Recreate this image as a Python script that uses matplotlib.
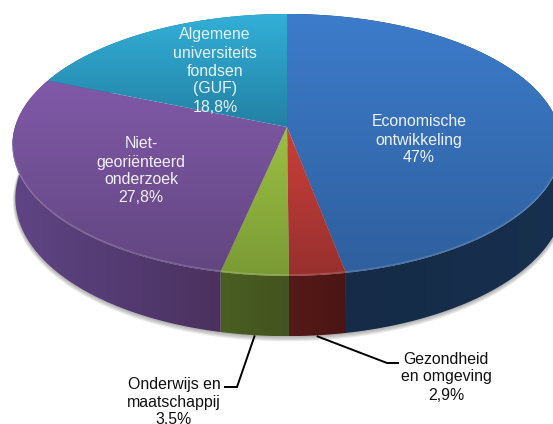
import numpy as np
import matplotlib
matplotlib.use('Agg')
import matplotlib.pyplot as plt
from matplotlib.colors import LinearSegmentedColormap
from matplotlib.patches import Polygon

plt.rcParams['font.family'] = ['Liberation Sans', 'DejaVu Sans']

# waarden, met de klok mee vanaf boven
labels = ['Economische\nontwikkeling\n47%', 'Gezondheid\nen omgeving\n2,9%',
          'Onderwijs en\nmaatschappij\n3,5%', 'Niet-\ngeoriënteerd\nonderzoek\n27,8%',
          'Algemene\nuniversiteits\nfondsen\n(GUF)\n18,8%']
values = [47, 2.9, 3.5, 27.8, 18.8]
top_colors = [('#3c7ccb', '#2f5f9e'), ('#c9403a', '#98302e'), ('#9cc043', '#7a9a35'),
              ('#8059a8', '#624680'), ('#33b0d8', '#2380a4')]
wall_colors = [('#152a45', '#17304f'), ('#551a18', '#4a1513'), ('#4a5e22', '#435420'),
               ('#4a315f', '#5f4584'), ('#1d6a85', '#1d6a85')]
label_pos = [(419, 140), (446, 377), (174, 402), (141, 171), (215, 71)]
label_color = ['#eef2f9', '#111111', '#111111', '#f3eff7', '#e6f4f9']

# perspectief van de schijf
cx, cy = 287, 127
A, B, k = 272, 128.5, 0.137
depth = 52
skew = 3


def project(a, z=0.0, grow=0.0):
    u, v = np.sin(a), np.cos(a)
    w = 1 + k * v
    dx = skew * u ** 2 if z else 0
    return cx + dx + (A + grow) * u / w, cy - (B + grow) * v / w + z / w


def gradient(ax, patch, c0, c1, vertical=True):
    cmap = LinearSegmentedColormap.from_list('g', [c0, c1])
    g = np.linspace(0, 1, 256).reshape(-1, 1)
    if not vertical:
        g = g.T
    x0, y0 = patch.get_xy().min(axis=0)
    x1, y1 = patch.get_xy().max(axis=0)
    ax.add_patch(patch)
    im = ax.imshow(g, cmap=cmap, extent=(x0, x1, y1, y0), aspect='auto', zorder=patch.get_zorder())
    im.set_clip_path(patch)


fig = plt.figure(figsize=(5.53, 4.24), dpi=100)
ax = fig.add_axes([0, 0, 1, 1])

edges = np.cumsum([0] + values) / sum(values) * 2 * np.pi

# schaduw onder de schijf
ring = np.linspace(np.pi * 0.42, np.pi * 1.58, 300)
for i in range(1, 5):
    x, y = project(ring, depth + i * 0.5, i * 0.6)
    ax.add_patch(Polygon(np.column_stack([x, y]), fc='#555555', ec='none', alpha=0.13, zorder=1))

# zijkant
for i in range(len(values)):
    t = np.linspace(edges[i], edges[i + 1], 150)
    xt, yt = project(t)
    xb, yb = project(t, depth)
    pts = np.column_stack([np.r_[xt, xb[::-1]], np.r_[yt, yb[::-1]]])
    c0, c1 = wall_colors[i]
    if i == 3:
        c0, c1 = c1, c0
    gradient(ax, Polygon(pts, ec='none', fc='none', zorder=2), c0, c1, vertical=False)

# bovenvlak
for i in range(len(values)):
    t = np.linspace(edges[i], edges[i + 1], 300)
    x, y = project(t)
    pts = np.column_stack([np.r_[cx, x], np.r_[cy, y]])
    gradient(ax, Polygon(pts, ec='none', fc='none', zorder=3), top_colors[i][0], top_colors[i][1])

# lichte rand langs de voorkant
front = np.linspace(np.pi * 0.55, np.pi * 1.45, 300)
xr, yr = project(front)
ax.plot(xr, yr - 1, color='white', lw=1.0, alpha=0.16, zorder=4)

for i, txt in enumerate(labels):
    ax.text(label_pos[i][0], label_pos[i][1], txt, ha='center', va='center', fontsize=11.4,
            color=label_color[i], linespacing=1.25, zorder=6)

# verwijslijnen
mid = (edges[:-1] + edges[1:]) / 2
x1, y1 = project(mid[1], depth + 1)
ax.plot([x1, 387, 398], [y1, 363, 363], color='black', lw=1.4, zorder=5, solid_joinstyle='miter')
x2, y2 = project(mid[2], depth + 1)
ax.plot([x2, 237, 225], [y2, 387, 387], color='black', lw=1.4, zorder=5, solid_joinstyle='miter')

ax.set_xlim(0, 553)
ax.set_ylim(424, 0)
ax.axis('off')
fig.savefig('out.png', dpi=100)
